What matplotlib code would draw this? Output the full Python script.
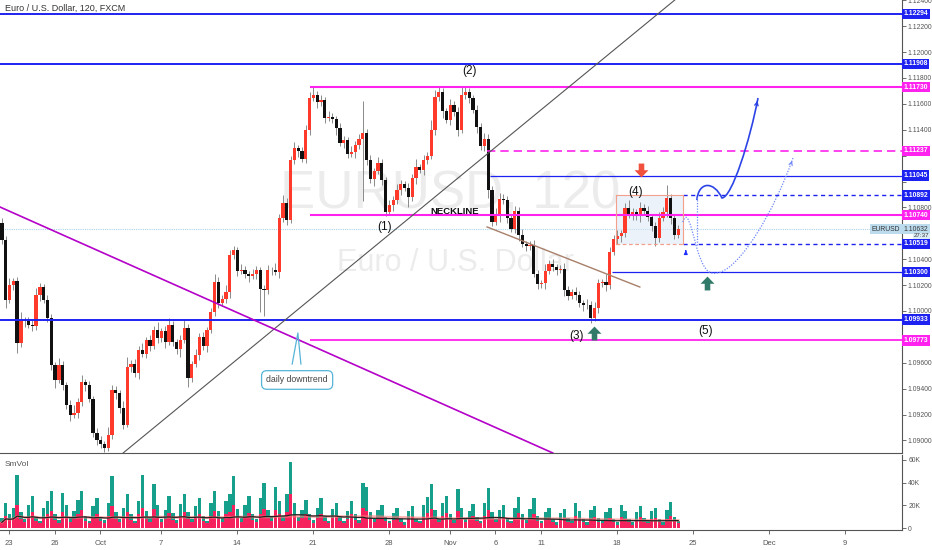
import matplotlib
matplotlib.use('Agg')
import matplotlib.pyplot as plt
import matplotlib.transforms as mtransforms
from matplotlib.path import Path
from matplotlib.patches import PathPatch, Rectangle
import numpy as np
import pandas as pd

plt.rcParams['font.family'] = ['Liberation Sans', 'DejaVu Sans']

# ---------------- data ----------------
first_open = 1.10680
closes = [
    1.10548, 1.10085, 1.10201, 1.10232, 1.09753, 1.09931, 1.09925, 1.09892, 1.09884, 1.10124,
    1.10185, 1.10085, 1.09946, 1.09583, 1.09467, 1.09583, 1.09429, 1.09274, 1.09197, 1.09212,
    1.09297, 1.09452, 1.09429, 1.09320, 1.09058, 1.09004, 1.08973, 1.08942, 1.09042, 1.09390,
    1.09367, 1.09251, 1.09120, 1.09568, 1.09591, 1.09521, 1.09699, 1.09668, 1.09776, 1.09730,
    1.09853, 1.09792, 1.09846, 1.09761, 1.09892, 1.09761, 1.09707, 1.09776, 1.09869, 1.09483,
    1.09591, 1.09660, 1.09799, 1.09730, 1.09853, 1.09992, 1.10224, 1.10062, 1.10093, 1.10147,
    1.10432, 1.10471, 1.10309, 1.10315, 1.10286, 1.10270, 1.10286, 1.10317, 1.10170, 1.10162,
    1.10317, 1.10320, 1.10301, 1.10718, 1.10834, 1.10703, 1.11166, 1.11259, 1.11236, 1.11174,
    1.11398, 1.11645, 1.11668, 1.11614, 1.11629, 1.11490, 1.11498, 1.11483, 1.11413, 1.11297,
    1.11320, 1.11212, 1.11228, 1.11282, 1.11328, 1.11375, 1.11166, 1.11019, 1.11081, 1.11143,
    1.11012, 1.10764, 1.10819, 1.10857, 1.10934, 1.10981, 1.10950, 1.10880, 1.11027, 1.11112,
    1.11089, 1.11166, 1.11197, 1.11398, 1.11653, 1.11691, 1.11544, 1.11475, 1.11591, 1.11537,
    1.11398, 1.11668, 1.11691, 1.11645, 1.11552, 1.11421, 1.11274, 1.11328, 1.10934, 1.10687,
    1.10734, 1.10865, 1.10857, 1.10718, 1.10633, 1.10772, 1.10587, 1.10517, 1.10502, 1.10510,
    1.10286, 1.10208, 1.10216, 1.10309, 1.10363, 1.10340, 1.10317, 1.10324, 1.10162, 1.10116,
    1.10147, 1.10124, 1.10062, 1.10046, 1.10050, 1.09946, 1.10023, 1.10216, 1.10224, 1.10201,
    1.10456, 1.10556, 1.10579, 1.10602, 1.10795, 1.10741, 1.10764, 1.10734, 1.10795, 1.10772,
    1.10726, 1.10656, 1.10564, 1.10718, 1.10764, 1.10873, 1.10718, 1.10587, 1.10632,
]
wick_up_pips = [
    4, 3, 5, 2, 3, 6, 2, 3, 4, 5,  3, 2, 4, 3, 2, 5, 3, 2, 4, 6,
    3, 5, 2, 3, 2, 4, 3, 2, 6, 4,  3, 2, 5, 8, 3, 4, 3, 5, 2, 4,
    3, 6, 2, 4, 5, 3, 2, 4, 6, 3,  2, 5, 3, 4, 2, 3, 6, 4, 3, 5,
    4, 3, 2, 5, 3, 2, 4, 3, 2, 3,  4, 2, 5, 3, 6, 4, 3, 5, 2, 3,
    4, 5, 6, 3, 4, 2, 5, 3, 2, 4,  3, 2, 5, 3, 4, 25, 3, 4, 2, 5,
    3, 2, 4, 3, 5, 3, 2, 4, 3, 6,  2, 4, 3, 8, 5, 4, 3, 2, 5, 3,
    4, 6, 4, 3, 2, 4, 3, 5, 4, 3,  6, 5, 4, 3, 2, 4, 3, 5, 2, 3,
    4, 3, 2, 5, 3, 4, 2, 3, 5, 3,  2, 4, 3, 2, 4, 3, 5, 3, 2, 6,
    4, 3, 5, 2, 4, 6, 3, 2, 5, 3,  4, 2, 3, 5, 4, 10, 3, 2, 3,
]
wick_dn_pips = [
    3, 6, 2, 4, 8, 3, 5, 2, 4, 3,  5, 2, 3, 4, 6, 2, 4, 3, 5, 2,
    4, 3, 5, 2, 3, 4, 3, 3, 2, 3,  5, 4, 3, 2, 4, 3, 5, 2, 3, 4,
    2, 4, 3, 5, 2, 3, 4, 6, 2, 7,  3, 2, 4, 3, 5, 2, 3, 4, 2, 3,
    5, 3, 4, 2, 3, 5, 2, 4, 18, 20, 3, 4, 2, 5, 3, 4, 2, 3, 5, 2,
    3, 4, 2, 5, 3, 4, 2, 3, 5, 2,  4, 3, 2, 5, 3, 48, 4, 3, 5, 2,
    4, 3, 2, 5, 3, 4, 2, 8, 3, 5,  2, 4, 3, 2, 4, 3, 5, 2, 4, 3,
    5, 2, 3, 4, 2, 5, 3, 4, 6, 3,  2, 5, 3, 4, 2, 3, 5, 2, 4, 3,
    2, 4, 3, 5, 2, 3, 4, 2, 5, 3,  2, 4, 3, 5, 3, 4, 2, 4, 3, 5,
    3, 2, 4, 5, 3, 2, 4, 3, 5, 2,  3, 4, 6, 3, 2, 4, 5, 3, 2,
]
vol_total_k = [
    9, 22, 12, 18, 47, 14, 8, 20, 28, 10,  6, 18, 24, 33, 12, 7, 31, 20, 9, 15,
    25, 33, 11, 6, 19, 26, 10, 7, 22, 46,  14, 8, 18, 30, 12, 6, 24, 47, 15, 9,
    39, 20, 8, 16, 28, 13, 7, 21, 30, 14,  8, 19, 26, 11, 6, 22, 33, 15, 9, 24,
    30, 46, 17, 9, 20, 28, 12, 8, 26, 40,  16, 10, 36, 24, 11, 30, 58, 22, 10, 16,
    25, 12, 7, 18, 26, 11, 6, 17, 22, 10,  6, 15, 24, 12, 7, 40, 36, 14, 8, 16,
    20, 10, 6, 13, 18, 9, 5, 15, 19, 8,  6, 20, 27, 39, 16, 8, 22, 28, 12, 7,
    34, 18, 9, 15, 21, 10, 6, 22, 35, 14,  8, 16, 20, 9, 6, 18, 27, 12, 7, 17,
    26, 11, 6, 14, 18, 8, 5, 13, 17, 9,  6, 22, 15, 8, 5, 16, 19, 9, 6, 14,
    18, 8, 5, 20, 15, 8, 5, 14, 19, 9,  6, 15, 18, 8, 5, 16, 23, 10, 6,
]
vol_sell_k = [
    5, 11, 7, 9, 20, 8, 5, 10, 14, 6,  4, 9, 12, 15, 7, 4, 14, 10, 5, 8,
    12, 16, 6, 4, 10, 12, 6, 4, 11, 19,  8, 5, 9, 14, 7, 4, 12, 18, 8, 5,
    17, 10, 5, 8, 13, 7, 4, 11, 14, 8,  5, 10, 12, 6, 4, 11, 15, 8, 5, 12,
    14, 20, 9, 5, 10, 13, 7, 5, 12, 17,  9, 6, 16, 12, 6, 14, 30, 11, 6, 9,
    12, 7, 4, 9, 12, 6, 4, 9, 11, 6,  4, 8, 12, 7, 4, 18, 15, 8, 5, 9,
    10, 6, 4, 7, 9, 5, 3, 8, 10, 5,  4, 10, 13, 17, 8, 5, 11, 13, 7, 4,
    15, 9, 5, 8, 11, 6, 4, 11, 16, 8,  5, 8, 10, 5, 4, 9, 13, 7, 4, 9,
    12, 6, 4, 7, 9, 5, 3, 7, 9, 5,  4, 11, 8, 5, 3, 8, 10, 5, 4, 7,
    9, 5, 3, 10, 8, 5, 3, 7, 10, 5,  4, 8, 9, 5, 3, 8, 11, 6, 4,
]
date_labels = ['23', '26', 'Oct', '7', '14', '21', '28', 'Nov', '6', '11', '18', '25', 'Dec', '9']
date_trading_day = [0, 3, 6, 10, 15, 20, 25, 29, 32, 35, 40, 45, 50, 55]
price_ticks = [1.090, 1.092, 1.094, 1.096, 1.098, 1.100, 1.102, 1.104, 1.106,
               1.108, 1.110, 1.112, 1.114, 1.116, 1.118, 1.120, 1.122, 1.124]
vol_ticks_k = [0, 20, 40, 60]
vol_tick_labels = ['0', '20K', '40K', '60K']
last_price = 1.10632
countdown = '27:37'

# horizontal levels (price, colour, style, start bar)
level_prices = [1.12294, 1.11908, 1.11730, 1.11237, 1.11045, 1.10892,
                1.10740, 1.10519, 1.10300, 1.09933, 1.09773]
BLUE = '#1e22f0'
MAG = '#ff22ee'
level_colors = [BLUE, BLUE, MAG, MAG, BLUE, BLUE, MAG, BLUE, BLUE, BLUE, MAG]
level_styles = ['-', '-', '-', (0, (5, 3)), '-', (0, (3, 2.5)), '-', (0, (3, 2.5)), '-', '-', '-']
level_widths = [1.4, 1.4, 1.5, 1.2, 0.9, 1.0, 1.5, 1.0, 0.9, 1.4, 1.3]
level_start = [None, None, 81.1, 127.7, 128.5, 179.2, 81.1, 179.2, 160.6, None, 81.1]

# ---------------- figure ----------------
W, H = 932, 550
fig = plt.figure(figsize=(W / 100, H / 100), dpi=100)
fig.patch.set_facecolor('white')
axw = 902 / W
ax = fig.add_axes([0, 97 / H, axw, 453 / H])
axv = fig.add_axes([0, 20 / H, axw, 75 / H], sharex=ax)

n = len(closes)
x = np.arange(n)
opens = np.array([first_open] + closes[:-1])
cl = np.array(closes)
highs = np.maximum(opens, cl) + np.array(wick_up_pips) * 1e-4
lows = np.minimum(opens, cl) - np.array(wick_dn_pips) * 1e-4

XMIN, XMAX = -0.5, 236.9
YMIN, YMAX = 1.08903, 1.12402
ax.set_xlim(XMIN, XMAX)
ax.set_ylim(YMIN, YMAX)

# watermark
ax.text(0.499, 0.572, 'EURUSD, 120', transform=ax.transAxes, ha='center', va='center',
        fontsize=38, color='#ececec', zorder=0)
ax.text(0.505, 0.42, 'Euro / U.S. Dollar', transform=ax.transAxes, ha='center', va='center',
        fontsize=22, color='#ececec', zorder=0)

# current price line
ax.axhline(last_price, color='#a9d3ec', lw=0.8, ls=(0, (1, 1)), zorder=1)

# candles
up = cl >= opens
ax.vlines(x, lows, highs, color='#8a8a8a', lw=0.7, zorder=2)
ax.bar(x[up], (cl - opens)[up], bottom=opens[up], width=0.85, color='#ff3a2a', zorder=3, linewidth=0)
ax.bar(x[~up], (opens - cl)[~up], bottom=cl[~up], width=0.85, color='#111111', zorder=3, linewidth=0)

# levels
for p, c, s, w, st in zip(level_prices, level_colors, level_styles, level_widths, level_start):
    x0 = XMIN if st is None else st
    ax.plot([x0, XMAX], [p, p], color=c, ls=s, lw=w, zorder=4, solid_capstyle='butt')

# trend lines
ax.plot([31.9, 177.1], [1.08903, 1.12402], color='#555555', lw=0.8, zorder=4)
ax.plot([-0.5, 145.0], [1.10803, 1.08903], color='#b400c8', lw=1.2, zorder=4)
ax.plot([127.7, 167.9], [1.10649, 1.10185], color='#a87f6a', lw=1.0, zorder=4)

# consolidation box (4)
ax.add_patch(Rectangle((161.6, 1.10519), 179.2 - 161.6, 1.10892 - 1.10519,
                       facecolor='#dce8f6', alpha=0.55, edgecolor='none', zorder=1.5))
ax.plot([161.6, 179.2, 179.2], [1.10892, 1.10892, 1.10519], color='#f2a08c', lw=0.8, zorder=4)
ax.plot([161.6, 161.6], [1.10519, 1.10892], color='#f2a08c', lw=0.8, zorder=4)
ax.plot([161.6, 179.2], [1.10519, 1.10519], color='#f2a08c', lw=0.9, ls=(0, (3, 2)), zorder=4)

# projection curves
solid_v = [(182.9, 1.10857), (183.4, 1.11004), (187.4, 1.11004), (189.5, 1.10873),
           (192.1, 1.10873), (196.9, 1.11320), (199.0, 1.11645)]
solid_c = [Path.MOVETO, Path.CURVE4, Path.CURVE4, Path.CURVE4, Path.CURVE4, Path.CURVE4, Path.CURVE4]
ax.add_patch(PathPatch(Path(solid_v, solid_c), fill=False, edgecolor='#2c44e6', lw=1.2, zorder=5))
ax.annotate('', xy=(199.0, 1.11645), xytext=(198.6, 1.11590),
            arrowprops=dict(arrowstyle='->', color='#2c44e6', lw=1.0, mutation_scale=6), zorder=5)

dot_v = [(179.2, 1.10687), (180.3, 1.10780), (181.1, 1.10687), (182.9, 1.10486),
         (184.5, 1.10332), (185.8, 1.10278), (188.2, 1.10293),
         (194.2, 1.10317), (203.4, 1.10780), (208.2, 1.11181)]
dot_c = [Path.MOVETO] + [Path.CURVE4] * 9
ax.add_patch(PathPatch(Path(dot_v, dot_c), fill=False, edgecolor='#6f86f5', lw=0.9,
                       ls=(0, (1, 1.2)), zorder=5))
ax.annotate('', xy=(208.2, 1.11181), xytext=(207.5, 1.11120),
            arrowprops=dict(arrowstyle='->', color='#6f86f5', lw=0.8, mutation_scale=6), zorder=5)
ax.plot([182.9, 182.9], [1.10509, 1.10880], color='#6f86f5', lw=0.9, ls=(0, (1, 1.2)), zorder=5)

# block arrows (markers)
down_arrow = Path([(-0.2, 0.5), (0.2, 0.5), (0.2, 0.02), (0.5, 0.02), (0, -0.5),
                   (-0.5, 0.02), (-0.2, 0.02), (-0.2, 0.5)])
up_arrow = Path([(-0.2, -0.5), (0.2, -0.5), (0.2, -0.02), (0.5, -0.02), (0, 0.5),
                 (-0.5, -0.02), (-0.2, -0.02), (-0.2, -0.5)])
ax.plot([168.2], [1.11089], marker=down_arrow, markersize=10, color='#f0503c', mew=0, ls='none', zorder=6)
ax.plot([155.8], [1.09830], marker=up_arrow, markersize=10, color='#2f7a68', mew=0, ls='none', zorder=6)
ax.plot([185.6], [1.10216], marker=up_arrow, markersize=10, color='#2f7a68', mew=0, ls='none', zorder=6)
ax.annotate('', xy=(180.0, 1.10490), xytext=(180.0, 1.10440),
            arrowprops=dict(arrowstyle='-|>', color='#2030ff', lw=0.9, mutation_scale=5), zorder=6)

# wave labels
for lbl, xi, pi in [('(2)', 123.2, 1.11853), ('(1)', 100.8, 1.10649), ('(3)', 151.3, 1.09807),
                    ('(4)', 166.9, 1.10920), ('(5)', 185.3, 1.09846)]:
    ax.text(xi, pi, lbl, ha='center', va='center', fontsize=8.5, color='#111111', zorder=7)
ax.text(119.2, 1.10772, 'NECKLINE', ha='center', va='center', fontsize=6.8,
        fontweight='bold', color='#111111', zorder=7)

# callout
ax.plot([76.4, 77.9, 78.7], [1.09590, 1.09830, 1.09590], color='#56b4d8', lw=0.9, zorder=6)
ax.text(77.7, 1.09467, 'daily downtrend', ha='center', va='center', fontsize=6.3, color='#444444',
        zorder=7, bbox=dict(boxstyle='round,pad=0.55,rounding_size=0.6', facecolor='white',
                            edgecolor='#56b4d8', lw=0.9))

# title
ax.text(5 / 902, 1 - 8 / 453, 'Euro / U.S. Dollar, 120, FXCM', transform=ax.transAxes,
        ha='left', va='center', fontsize=6.5, color='#333333', zorder=8)

# axes styling
for a in (ax, axv):
    a.set_facecolor('white')
    for s in ('left', 'top'):
        a.spines[s].set_visible(False)
    a.spines['right'].set_color('#555555')
    a.spines['right'].set_linewidth(0.8)
    a.spines['bottom'].set_color('#555555')
    a.spines['bottom'].set_linewidth(0.8)
    a.yaxis.tick_right()

# tick labels hidden where a coloured level label covers them
covered = level_prices + [last_price]
tick_text = []
for t in price_ticks:
    near = any(abs(t - c) < 0.00055 for c in covered)
    tick_text.append('' if near else '%.5f' % t)
ax.set_yticks(price_ticks)
ax.set_yticklabels(tick_text)
ax.tick_params(axis='y', labelsize=4.9, colors='#555555', length=3, width=0.6, pad=1.2)
ax.tick_params(axis='x', bottom=False, labelbottom=False)

# right-axis coloured labels
bt = mtransforms.blended_transform_factory(ax.transAxes, ax.transData)
for p, c in zip(level_prices, level_colors):
    ax.text(1.0015, p, '%.5f' % p, transform=bt, ha='left', va='center', fontsize=4.9,
            color='white', fontweight='bold', clip_on=False, zorder=10,
            bbox=dict(boxstyle='square,pad=0.25', facecolor=c, edgecolor='none'))
ax.text(1.0015, last_price, '%.5f' % last_price, transform=bt, ha='left', va='center', fontsize=4.9,
        color='#333333', clip_on=False, zorder=10,
        bbox=dict(boxstyle='square,pad=0.25', facecolor='#bcdcee', edgecolor='none'))
ax.text(0.998, last_price, 'EURUSD', transform=bt, ha='right', va='center', fontsize=4.9,
        color='#333333', clip_on=False, zorder=10,
        bbox=dict(boxstyle='square,pad=0.25', facecolor='#bcdcee', edgecolor='none'))
ax.text(1.030, last_price - 0.00052, countdown, transform=bt, ha='right', va='center', fontsize=4.4,
        color='#333333', clip_on=False, zorder=10,
        bbox=dict(boxstyle='square,pad=0.1', facecolor='#dcecf6', edgecolor='none'))

# ---------------- volume panel ----------------
vt = np.array(vol_total_k)
vs = np.array(vol_sell_k)
axv.bar(x, vt, width=0.9, color='#16a08c', linewidth=0, zorder=2)
axv.bar(x, vs, width=0.9, color='#f5225e', linewidth=0, zorder=3)
ma_fast = pd.Series(vs).rolling(20, min_periods=1).mean()
ma_slow = pd.Series(vs).rolling(40, min_periods=1).mean()
axv.plot(x, ma_slow, color='#ff7b7b', lw=2.0, alpha=0.6, zorder=4)
axv.plot(x, ma_fast, color='#222222', lw=0.9, zorder=5)
axv.set_ylim(-1.76, 64.3)
axv.set_yticks(vol_ticks_k)
axv.set_yticklabels(vol_tick_labels)
axv.tick_params(axis='y', labelsize=4.9, colors='#555555', length=3, width=0.6, pad=1.5)
axv.text(5 / 902, 0.87, 'SmVol', transform=axv.transAxes, ha='left', va='center',
         fontsize=6, color='#555555')

tick_pos = [d * 4 + 1.87 for d in date_trading_day]
axv.set_xticks(tick_pos)
axv.set_xticklabels(date_labels)
axv.tick_params(axis='x', labelsize=5.5, colors='#555555', length=3, width=0.6, pad=4)
axv.set_xlim(XMIN, XMAX)

fig.savefig('out.png', dpi=100, facecolor='white')
